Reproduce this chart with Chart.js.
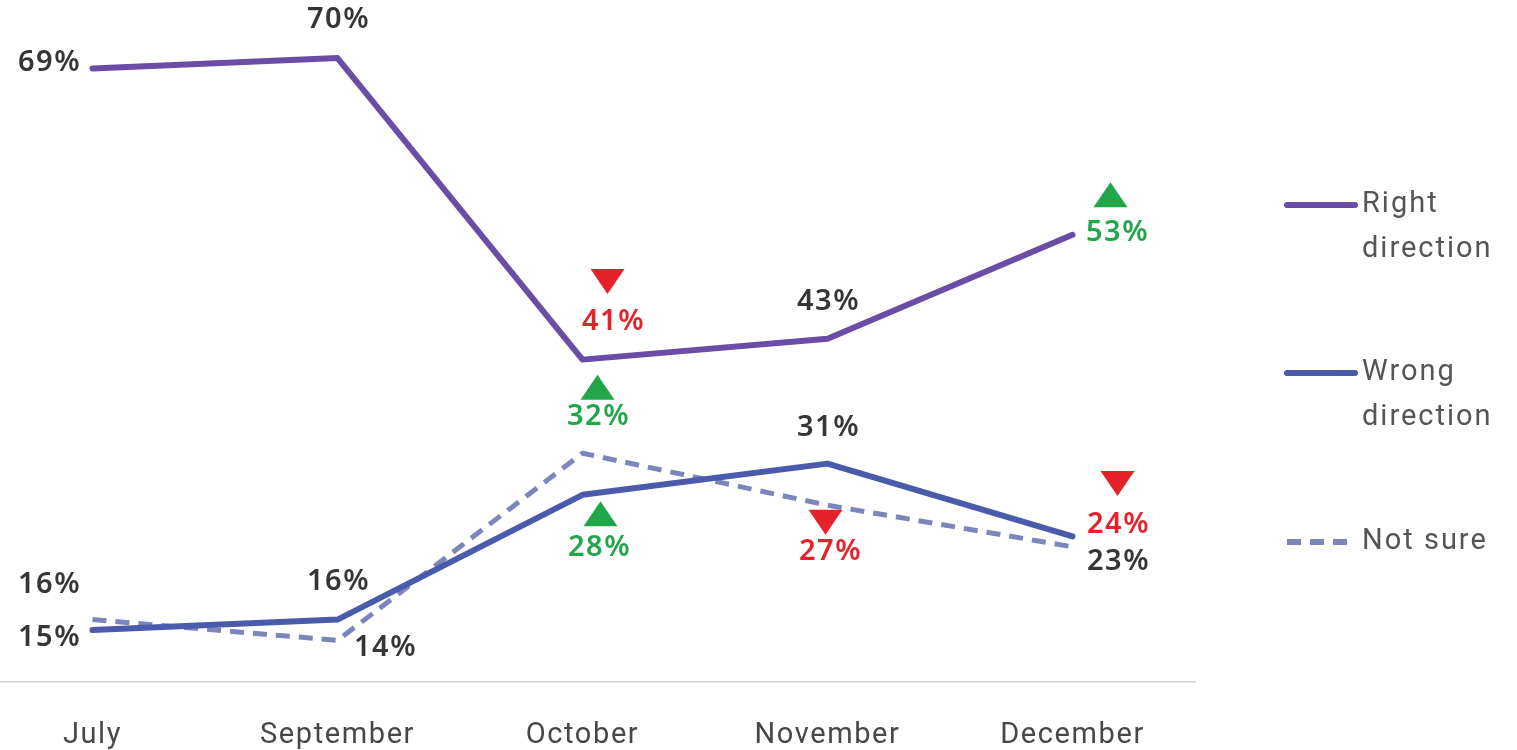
<!DOCTYPE html>
<html>
<head>
<meta charset="utf-8">
<script src="https://cdn.jsdelivr.net/npm/chart.js@4/dist/chart.umd.min.js"></script>
<style>
  html, body { margin: 0; padding: 0; background: #fff; overflow: hidden; }
  #wrap { position: absolute; left: -30px; top: 0; width: 1547px; height: 750px; }
</style>
</head>
<body>
<div id="wrap"><canvas id="c" width="1547" height="750"></canvas></div>
<script>
// ---- data ----
const categories = ['July', 'September', 'October', 'November', 'December'];
const seriesNames = ['Right direction', 'Wrong direction', 'Not sure'];
const rightDirection = [69, 70, 41, 43, 53];
const wrongDirection = [15, 16, 28, 31, 24];
const notSure = [16, 14, 32, 27, 23];
// significant change markers: 'up', 'down' or null
const rightChange = [null, null, 'down', null, 'up'];
const wrongChange = [null, null, 'up', null, 'down'];
const notSureChange = [null, null, 'up', 'down', null];

// ---- label placement (style only) ----
const labelOffsets = [
  [[-44, -6], [0, -38], [30, -38], [0, -37], [44, -2]],
  [[-44, 8], [0, -38], [16, 53], [0, -36], [45, -12]],
  [[-44, -35], [47, 7], [15, -36], [2, 47], [45, 15]]
];
const triOffsets = [
  [null, null, [25, -78], null, [38, -40]],
  [null, null, [18, 19], null, [45, -53]],
  [null, null, [15, -66], [-2, 17], null]
];
const changes = [rightChange, wrongChange, notSureChange];
const COLORS = { right: '#6a4ea6', wrong: '#4b5bab', notsure: '#7c86bd', up: '#22a64a', down: '#e5212a', text: '#363636' };
const LABEL_FONT = '600 29px "Noto Sans", "DejaVu Sans", sans-serif';

const spacingPlugin = {
  id: 'tickSpacing',
  beforeDraw(chart) { chart.ctx.letterSpacing = '1.6px'; },
  beforeDatasetsDraw(chart) { chart.ctx.letterSpacing = '0px'; }
};

const labelPlugin = {
  id: 'pointLabels',
  afterDatasetsDraw(chart) {
    const ctx = chart.ctx;
    ctx.save();
    chart.data.datasets.forEach((ds, di) => {
      const meta = chart.getDatasetMeta(di);
      meta.data.forEach((pt, i) => {
        const ch = changes[di][i];
        const off = labelOffsets[di][i];
        ctx.font = LABEL_FONT;
        ctx.letterSpacing = '1.5px';
        ctx.textAlign = 'center';
        ctx.textBaseline = 'middle';
        ctx.fillStyle = ch === 'up' ? COLORS.up : ch === 'down' ? COLORS.down : COLORS.text;
        ctx.fillText(ds.data[i] + '%', pt.x + off[0] + 1, pt.y + off[1]);
        const t = triOffsets[di][i];
        if (ch && t) {
          const cx = pt.x + t[0], cy = pt.y + t[1];
          const w = 34, h = 25;
          ctx.beginPath();
          if (ch === 'up') {
            ctx.moveTo(cx, cy - h / 2); ctx.lineTo(cx + w / 2, cy + h / 2); ctx.lineTo(cx - w / 2, cy + h / 2);
            ctx.fillStyle = COLORS.up;
          } else {
            ctx.moveTo(cx - w / 2, cy - h / 2); ctx.lineTo(cx + w / 2, cy - h / 2); ctx.lineTo(cx, cy + h / 2);
            ctx.fillStyle = COLORS.down;
          }
          ctx.closePath();
          ctx.fill();
        }
      });
    });
    ctx.letterSpacing = '0px';
    ctx.restore();
  }
};

const legendPlugin = {
  id: 'sideLegend',
  afterDraw(chart) {
    const ctx = chart.ctx;
    const ox = 30; // canvas is shifted left by 30px
    const items = [
      { color: COLORS.right, dash: [], lines: ['Right', 'direction'], y: 205 },
      { color: COLORS.wrong, dash: [], lines: ['Wrong', 'direction'], y: 373 },
      { color: COLORS.notsure, dash: [14, 9], lines: ['Not sure'], y: 542 }
    ];
    ctx.save();
    items.forEach(it => {
      ctx.beginPath();
      ctx.strokeStyle = it.color;
      ctx.lineWidth = 6;
      ctx.lineCap = it.dash.length ? 'butt' : 'round';
      ctx.setLineDash(it.dash);
      ctx.moveTo(1287 + ox, it.y);
      ctx.lineTo(1355 + ox, it.y);
      ctx.stroke();
      ctx.setLineDash([]);
      ctx.font = '29px Roboto, sans-serif';
      ctx.letterSpacing = '2px';
      ctx.fillStyle = '#555555';
      ctx.textAlign = 'left';
      ctx.textBaseline = 'middle';
      it.lines.forEach((s, k) => ctx.fillText(s, 1362 + ox, it.y + k * 45));
    });
    ctx.letterSpacing = '0px';
    ctx.restore();
  }
};

new Chart(document.getElementById('c'), {
  type: 'line',
  data: {
    labels: categories,
    datasets: [
      { label: seriesNames[0], data: rightDirection, borderColor: COLORS.right, borderWidth: 6, pointRadius: 0, tension: 0, clip: false, borderCapStyle: 'round', borderJoinStyle: 'round' },
      { label: seriesNames[1], data: wrongDirection, borderColor: COLORS.wrong, borderWidth: 6, pointRadius: 0, tension: 0, clip: false, borderCapStyle: 'round', borderJoinStyle: 'round' },
      { label: seriesNames[2], data: notSure, borderColor: COLORS.notsure, borderWidth: 5, borderDash: [14, 9], pointRadius: 0, tension: 0, clip: false, borderJoinStyle: 'round' }
    ]
  },
  options: {
    responsive: false,
    animation: false,
    layout: { padding: { left: 0, right: 322, top: 0, bottom: 0 } },
    plugins: { legend: { display: false }, tooltip: { enabled: false } },
    scales: {
      x: {
        type: 'category',
        offset: true,
        grid: { display: false, drawTicks: false },
        border: { display: true, color: '#d2d2d2', width: 1.5 },
        ticks: { color: '#474747', font: { family: 'Roboto, sans-serif', size: 29 }, padding: 36, maxRotation: 0 },
        afterFit(scale) { scale.height = 68; }
      },
      y: { display: false, min: 10, max: 75.58 }
    }
  },
  plugins: [spacingPlugin, labelPlugin, legendPlugin]
});
</script>
</body>
</html>
